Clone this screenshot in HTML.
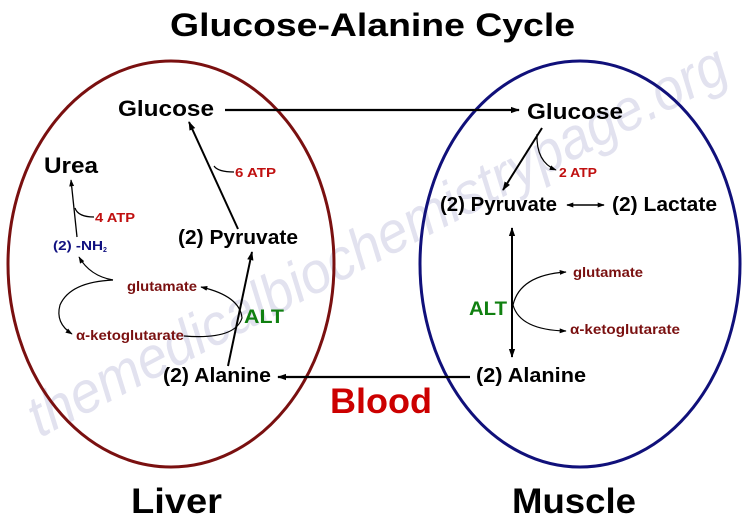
<!DOCTYPE html>
<html><head><meta charset="utf-8"><style>
html,body{margin:0;padding:0;background:#fff;}
svg{display:block;}
text{font-family:"Liberation Sans",Arial,sans-serif;font-weight:bold;}
</style></head><body>
<svg width="750" height="525" viewBox="0 0 750 525" xmlns="http://www.w3.org/2000/svg">
<defs>
<marker id="ah" viewBox="0 0 10 10" refX="9" refY="5" markerWidth="9" markerHeight="9" markerUnits="userSpaceOnUse" orient="auto"><path d="M0,1.5 L10,5 L0,8.5 Z" fill="#000"/></marker>
<marker id="as" viewBox="0 0 10 10" refX="9" refY="5" markerWidth="7" markerHeight="7" markerUnits="userSpaceOnUse" orient="auto"><path d="M0,1.5 L10,5 L0,8.5 Z" fill="#000"/></marker>
<marker id="ahs" viewBox="0 0 10 10" refX="1" refY="5" markerWidth="9" markerHeight="9" markerUnits="userSpaceOnUse" orient="auto"><path d="M10,1.5 L0,5 L10,8.5 Z" fill="#000"/></marker>
<marker id="ass" viewBox="0 0 10 10" refX="1" refY="5" markerWidth="7" markerHeight="7" markerUnits="userSpaceOnUse" orient="auto"><path d="M10,1.5 L0,5 L10,8.5 Z" fill="#000"/></marker>
</defs>

<!-- watermark -->
<text x="0" y="0" transform="translate(40,438) rotate(-27.5)" font-size="58" fill="#e2e2ef" style="font-weight:normal;font-style:italic" textLength="780" lengthAdjust="spacingAndGlyphs">themedicalbiochemistrypage.org</text>

<!-- ellipses -->
<ellipse cx="171" cy="264" rx="163" ry="203" fill="none" stroke="#7a1010" stroke-width="3"/>
<ellipse cx="580" cy="264" rx="160" ry="203" fill="none" stroke="#10107a" stroke-width="3"/>

<!-- title -->
<text x="170" y="36" font-size="32" fill="#000" textLength="405" lengthAdjust="spacingAndGlyphs">Glucose-Alanine Cycle</text>
<text x="131" y="513" font-size="35" fill="#000" textLength="91" lengthAdjust="spacingAndGlyphs">Liver</text>
<text x="512" y="513" font-size="35" fill="#000" textLength="124" lengthAdjust="spacingAndGlyphs">Muscle</text>
<text x="330" y="413" font-size="35" fill="#cc0000" textLength="102" lengthAdjust="spacingAndGlyphs">Blood</text>

<!-- left labels -->
<text x="118" y="116" font-size="22" textLength="96" lengthAdjust="spacingAndGlyphs">Glucose</text>
<text x="44" y="173" font-size="22" textLength="54" lengthAdjust="spacingAndGlyphs">Urea</text>
<text x="235" y="177" font-size="13" fill="#c01010" textLength="41" lengthAdjust="spacingAndGlyphs">6 ATP</text>
<text x="95" y="222" font-size="13" fill="#c01010" textLength="40" lengthAdjust="spacingAndGlyphs">4 ATP</text>
<text x="53" y="250" font-size="13" fill="#101080" textLength="50" lengthAdjust="spacingAndGlyphs">(2) -NH</text>
<text x="103" y="252" font-size="7" fill="#101080">2</text>
<text x="178" y="244" font-size="20" textLength="120" lengthAdjust="spacingAndGlyphs">(2) Pyruvate</text>
<text x="127" y="291" font-size="13.5" fill="#7a1010" textLength="70" lengthAdjust="spacingAndGlyphs">glutamate</text>
<text x="76" y="340" font-size="13.5" fill="#7a1010" textLength="108" lengthAdjust="spacingAndGlyphs">α-ketoglutarate</text>
<text x="244" y="323" font-size="19" fill="#108010" textLength="40" lengthAdjust="spacingAndGlyphs">ALT</text>
<text x="163" y="382" font-size="20" textLength="108" lengthAdjust="spacingAndGlyphs">(2) Alanine</text>

<!-- right labels -->
<text x="527" y="119" font-size="22" textLength="96" lengthAdjust="spacingAndGlyphs">Glucose</text>
<text x="559" y="177" font-size="13" fill="#c01010" textLength="38" lengthAdjust="spacingAndGlyphs">2 ATP</text>
<text x="440" y="211" font-size="20" textLength="117" lengthAdjust="spacingAndGlyphs">(2) Pyruvate</text>
<text x="612" y="211" font-size="20" textLength="105" lengthAdjust="spacingAndGlyphs">(2) Lactate</text>
<text x="469" y="315" font-size="19" fill="#108010" textLength="38" lengthAdjust="spacingAndGlyphs">ALT</text>
<text x="573" y="277" font-size="13.5" fill="#7a1010" textLength="70" lengthAdjust="spacingAndGlyphs">glutamate</text>
<text x="570" y="334" font-size="13.5" fill="#7a1010" textLength="110" lengthAdjust="spacingAndGlyphs">α-ketoglutarate</text>
<text x="476" y="382" font-size="20" textLength="110" lengthAdjust="spacingAndGlyphs">(2) Alanine</text>

<!-- connectors -->
<g stroke="#000" fill="none">
<line x1="225" y1="110" x2="519" y2="110" stroke-width="2.2" marker-end="url(#ah)"/>
<line x1="470" y1="377" x2="278" y2="377" stroke-width="2.2" marker-end="url(#ah)"/>
<line x1="238" y1="229" x2="189" y2="122" stroke-width="2" marker-end="url(#ah)"/>
<path d="M214,166 Q218,172 234,172" stroke-width="1.2"/>
<line x1="228" y1="366" x2="252" y2="252" stroke-width="2" marker-end="url(#ah)"/>
<line x1="77" y1="237" x2="71" y2="180" stroke-width="1.3" marker-end="url(#as)"/>
<path d="M75,208 Q78,217 94,217" stroke-width="1.2"/>
<path d="M113,280 Q90,276 79,257" stroke-width="1.2" marker-end="url(#as)"/>
<path d="M113,280 Q70,282 60,305 Q55,323 72,334" stroke-width="1.2" marker-end="url(#as)"/>
<path d="M184,336 Q235,340 242,318 Q240,296 201,287" stroke-width="1.2" marker-end="url(#as)"/>
<line x1="542" y1="128" x2="503" y2="190" stroke-width="2" marker-end="url(#ah)"/>
<path d="M537,134 Q536,162 556,170" stroke-width="1.2" marker-end="url(#as)"/>
<line x1="567" y1="205" x2="604" y2="205" stroke-width="1.5" marker-start="url(#ass)" marker-end="url(#as)"/>
<line x1="512" y1="228" x2="512" y2="357" stroke-width="2" marker-start="url(#ahs)" marker-end="url(#ah)"/>
<path d="M513,305 Q520,275 566,272" stroke-width="1.2" marker-end="url(#as)"/>
<path d="M513,305 Q520,330 566,331" stroke-width="1.2" marker-end="url(#as)"/>
</g>
</svg>
</body></html>
